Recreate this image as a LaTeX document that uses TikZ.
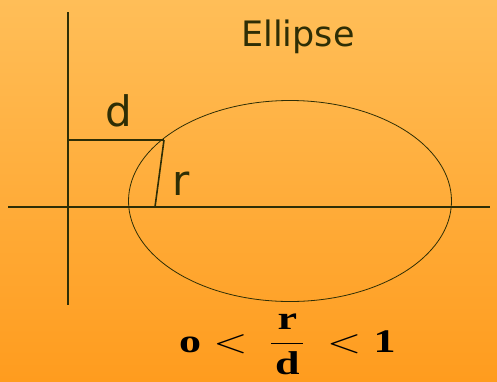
\documentclass[tikz,border=0pt]{standalone}
\usepackage{fontspec}
\setmainfont{Liberation Serif}
\newfontfamily\lblfont{DejaVu Sans}
\usepackage{graphicx}
\usepackage{tikz}
\definecolor{inkdark}{HTML}{2E2E05}

\begin{document}
\begin{tikzpicture}[
  x=1pt, y=-1pt,
  axis/.style={draw=inkdark, line width=1.6pt},
  thin/.style={draw=inkdark, line width=0.8pt},
  lbl/.style={text=inkdark, font=\lblfont\fontsize{42}{46}\selectfont, inner sep=0pt}
]
% background
\shade[top color={rgb,255:red,255;green,190;blue,88}, bottom color={rgb,255:red,255;green,156;blue,30}]
  (0,0) rectangle (497,381);
\useasboundingbox (0,0) rectangle (497,381);

\coordinate (ytop) at (68,12);
\coordinate (ybot) at (68,305);
\coordinate (xleft) at (8,207);
\coordinate (xright) at (490,207);
\coordinate (foot) at (68,140);
\coordinate (pt) at (164,140);
\coordinate (focus) at (155,207);

\draw[axis] (ytop) -- (ybot);
\draw[axis] (xleft) -- (xright);
\draw[thin] (290,201) ellipse (161.5pt and 100.5pt);
\draw[axis] (foot) -- (pt);
\draw[axis] (pt) -- (focus);

\node[lbl, font=\lblfont\fontsize{35}{40}\selectfont] (title) at (298,37) {Ellipse};
\node[lbl] (dlbl) at (119,111) {d};
\node[lbl] (rlbl) at (181,184) {r};
% ratio, stretched wide like the slide
\node[inner sep=0pt, anchor=base west] (ratio) at (179,352)
  {\scalebox{4.4}[3.3]{$\mbox{\bfseries o}<\hspace{1.4pt}
    \displaystyle\frac{\makebox[7.3pt]{\bfseries r}}%
      {\rule{0pt}{7.4pt}\mbox{\bfseries d}}
    \hspace{1.4pt}<\mbox{\bfseries 1}$}};
\end{tikzpicture}
\end{document}
